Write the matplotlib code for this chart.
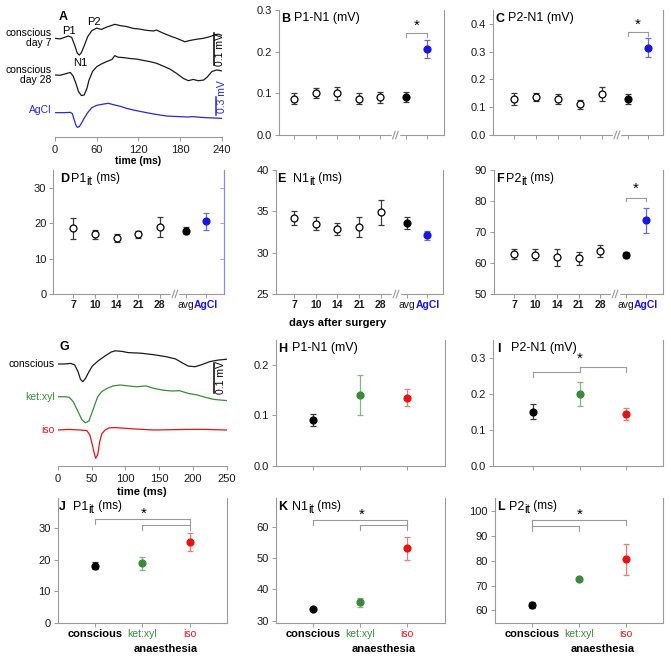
import matplotlib
matplotlib.use('Agg')
import matplotlib.pyplot as plt
from matplotlib.ticker import FormatStrFormatter

plt.rcParams['font.family'] = ['Liberation Sans', 'DejaVu Sans']

# ---------------- data ----------------
# example traces (time in ms, amplitude in mV)
t_day7 = [0, 7, 14, 19, 24, 29, 32, 35, 38, 42, 47, 53, 60, 67, 74, 82, 86, 94, 103,
          113, 122, 132, 142, 146, 156, 166, 175, 187, 194, 204, 214, 223, 230, 235, 240]
v_day7 = [0, -0.002, 0.003, 0.007, 0.003, -0.026, -0.047, -0.053, -0.045, -0.024, 0.005,
          0.024, 0.032, 0.028, 0.035, 0.041, 0.044, 0.040, 0.037, 0.031, 0.029, 0.025,
          0.023, 0.026, 0.016, 0.007, 0.0, -0.011, -0.007, -0.003, 0.0, 0.005, 0.011,
          0.013, 0.009]
t_day28 = [0, 7, 14, 22, 26, 30, 34, 38, 42, 46, 49, 54, 60, 67, 74, 82, 86, 91, 98, 108,
           118, 127, 137, 146, 156, 166, 175, 185, 192, 199, 206, 214, 219, 226, 233, 240]
v_day28 = [0, -0.001, 0.003, 0.008, -0.003, -0.026, -0.053, -0.065, -0.063, -0.042, -0.016,
           0.011, 0.026, 0.035, 0.042, 0.049, 0.061, 0.056, 0.055, 0.052, 0.050, 0.046,
           0.042, 0.037, 0.028, 0.018, 0.005, -0.011, -0.018, -0.014, -0.018, -0.016,
           -0.007, 0.011, 0.016, 0.013]
t_agcl = [0, 12, 22, 25, 27, 30, 32, 35, 38, 42, 47, 53, 60, 70, 77, 84, 94, 103, 113, 122,
          132, 142, 151, 161, 170, 180, 190, 199, 209, 218, 228, 240]
v_agcl = [0, 0, 0.005, -0.016, -0.093, -0.202, -0.240, -0.229, -0.174, -0.093, 0.0, 0.082,
          0.120, 0.142, 0.153, 0.131, 0.104, 0.071, 0.044, 0.022, 0.0, -0.022, -0.038,
          -0.055, -0.060, -0.065, -0.071, -0.065, -0.076, -0.082, -0.087, -0.093]

t_consc = [0, 9.5, 19, 25, 30, 33.5, 37, 41, 46, 51, 60, 70, 79, 85, 95, 104, 123, 142,
           161, 174, 184, 193, 203, 212, 225, 237, 250]
v_consc = [0, 0, 0.002, -0.003, -0.026, -0.051, -0.059, -0.048, -0.026, -0.007, 0.011,
           0.027, 0.040, 0.044, 0.042, 0.038, 0.036, 0.031, 0.024, 0.017, 0.004, -0.007,
           -0.009, -0.003, 0.008, 0.013, 0.016]
t_ketxyl = [0, 9.5, 17, 23, 30, 36, 41, 46, 52, 59, 65, 73, 82, 92, 104, 117, 130, 142,
            155, 168, 180, 193, 206, 218, 231, 240, 250]
v_ketxyl = [0, 0, -0.002, -0.017, -0.050, -0.078, -0.087, -0.081, -0.044, 0.0, 0.017,
            0.028, 0.036, 0.039, 0.036, 0.033, 0.036, 0.028, 0.022, 0.019, 0.020, 0.011,
            0.006, -0.002, -0.009, -0.011, -0.013]
t_iso = [0, 16, 32, 43, 47.5, 50.5, 54, 56, 59, 62, 65, 70, 76, 85, 98, 117, 142, 168,
         193, 218, 250]
v_iso = [0, 0.002, 0, -0.002, -0.017, -0.044, -0.078, -0.094, -0.083, -0.039, -0.013, 0.0,
         0.007, 0.008, 0.006, 0.003, 0.0, 0.001, 0.002, 0.002, 0.0]

# panels B-F: days after surgery, average and AgCl reference
days = ['7', '10', '14', '21', '28']
p1n1_mean = [0.087, 0.101, 0.100, 0.087, 0.091]
p1n1_sem = [0.013, 0.011, 0.015, 0.013, 0.013]
p1n1_avg = [0.091, 0.012]
p1n1_agcl = [0.206, 0.022]
p2n1_mean = [0.130, 0.136, 0.130, 0.110, 0.147]
p2n1_sem = [0.021, 0.015, 0.018, 0.016, 0.025]
p2n1_avg = [0.129, 0.017]
p2n1_agcl = [0.315, 0.034]
p1it_mean = [18.5, 16.8, 15.8, 16.8, 19.0]
p1it_sem = [2.9, 1.3, 1.1, 0.9, 2.8]
p1it_avg = [17.8, 1.0]
p1it_agcl = [20.6, 2.4]
n1it_mean = [34.2, 33.5, 32.85, 33.1, 34.9]
n1it_sem = [0.87, 0.77, 0.7, 1.25, 1.5]
n1it_avg = [33.55, 0.72]
n1it_agcl = [32.1, 0.56]
p2it_mean = [62.9, 62.7, 61.8, 61.5, 63.9]
p2it_sem = [1.6, 1.7, 2.8, 2.2, 1.9]
p2it_avg = [62.5, 0.9]
p2it_agcl = [73.8, 4.1]

# panels H-L: anaesthesia
conds = ['conscious', 'ket:xyl', 'iso']
an_p1n1 = [0.091, 0.140, 0.135]
an_p1n1_sem = [0.012, 0.040, 0.017]
an_p2n1 = [0.150, 0.200, 0.144]
an_p2n1_sem = [0.021, 0.033, 0.018]
an_p1it = [18.0, 18.8, 25.4]
an_p1it_sem = [1.1, 2.1, 2.8]
an_n1it = [33.7, 35.9, 53.1]
an_n1it_sem = [0.4, 1.5, 3.7]
an_p2it = [62.2, 72.6, 80.5]
an_p2it_sem = [1.3, 0.9, 6.1]

# ---------------- figure ----------------
W, H = 671, 659
fig = plt.figure(figsize=(W / 100, H / 100), dpi=100)
renderer = fig.canvas.get_renderer()

GRAY = '#9a9a9a'
BLUE = '#1717e0'
LBLUE = '#6a6ad8'
GREEN = '#3a8a3a'
LGREEN = '#86b486'
RED = '#e41414'
LRED = '#f07a7a'
cond_col = ['black', GREEN, RED]
cond_ecol = ['#3a3a3a', LGREEN, LRED]

day_x = [0, 1, 2, 3, 4]
avg_x = 5.2
agcl_x = 6.15
break_x = 4.7


def axes_px(l, t, r, b):
    return fig.add_axes([l / W, 1 - b / H, (r - l) / W, (b - t) / H])


def ftext(x, y, s, **kw):
    kw.setdefault('ha', 'center')
    kw.setdefault('va', 'center')
    return fig.text(x / W, 1 - y / H, s, **kw)


def style(ax, right=True):
    ax.spines['top'].set_visible(False)
    for s in ['left', 'bottom', 'right']:
        ax.spines[s].set_color(GRAY)
        ax.spines[s].set_linewidth(0.8)
    ax.spines['right'].set_visible(right)
    ax.tick_params(direction='out', length=3, width=0.7, color=GRAY,
                   labelsize=8, labelcolor='#1a1a1a', pad=2)
    ax.set_facecolor('none')


def title(box, letter, parts, dl=2.5, dt=14):
    # letter in bold, then pieces of text (text, size, drop in px)
    x = box[0] + dl
    yb = box[1] + 11.5
    ftext(x, yb, letter, ha='left', va='baseline', fontsize=9, fontweight='bold')
    x += dt
    for s, fs, dy in parts:
        t = ftext(x, yb + dy, s, ha='left', va='baseline', fontsize=fs)
        x += t.get_window_extent(renderer).width


def sub_title(name):
    return [(name, 9, 0), ('it', 8.5, 3.3), (' (ms)', 8.5, 0)]


def bracket(ax, x1, x2, y, d, left=True, rightend=True):
    ax.plot([x1, x2], [y, y], color=GRAY, lw=0.8, clip_on=False)
    if left:
        ax.plot([x1, x1], [y, y - d], color=GRAY, lw=0.8, clip_on=False)
    if rightend:
        ax.plot([x2, x2], [y, y - d], color=GRAY, lw=0.8, clip_on=False)


def axis_break(ax, x):
    tr = ax.get_xaxis_transform()
    ax.plot([x - 0.12, x + 0.12], [0, 0], color='white', lw=2.5, transform=tr,
            clip_on=False, zorder=5)
    for dx in (-0.07, 0.07):
        ax.plot([x + dx - 0.06, x + dx + 0.06], [-0.03, 0.03], color=GRAY, lw=0.8,
                transform=tr, clip_on=False, zorder=6)


ebkw = dict(fmt='o', ms=5, mew=0.9, elinewidth=0.9, capsize=2.5, capthick=0.9)


def day_panel(box, means, sems, avg, agcl, ylim, yticks, fmt, xlim, labels):
    ax = axes_px(*box)
    style(ax)
    ax.errorbar(day_x, means, yerr=sems, mfc='white', mec='black', ecolor='#3a3a3a',
                zorder=3, **ebkw)
    ax.errorbar([avg_x], [avg[0]], yerr=[avg[1]], mfc='black', mec='black',
                ecolor='#3a3a3a', zorder=3, **ebkw)
    ax.errorbar([agcl_x], [agcl[0]], yerr=[agcl[1]], mfc=BLUE, mec=BLUE,
                ecolor=LBLUE, zorder=3, **ebkw)
    ax.set_xlim(*xlim)
    ax.set_ylim(*ylim)
    ax.set_yticks(yticks)
    if fmt:
        ax.yaxis.set_major_formatter(FormatStrFormatter(fmt))
    ax.set_xticks(day_x + [avg_x, agcl_x])
    if labels:
        ax.set_xticklabels(days + ['avg', 'AgCl'])
        ax.tick_params(axis='x', pad=1.5)
        for i, lab in enumerate(ax.get_xticklabels()):
            lab.set_fontsize(7.5)
            if i < 5:
                lab.set_fontweight('bold')
            elif i == 6:
                lab.set_fontweight('bold')
                lab.set_color(BLUE)
    else:
        ax.set_xticklabels([])
    axis_break(ax, break_x)
    return ax


def cond_panel(box, means, sems, ylim, yticks, fmt, xlim, labels):
    ax = axes_px(*box)
    style(ax)
    for i in range(3):
        ax.errorbar([i], [means[i]], yerr=[sems[i]], mfc=cond_col[i], mec=cond_col[i],
                    ecolor=cond_ecol[i], zorder=3, **ebkw)
    ax.set_xlim(*xlim)
    ax.set_ylim(*ylim)
    ax.set_yticks(yticks)
    if fmt:
        ax.yaxis.set_major_formatter(FormatStrFormatter(fmt))
    ax.set_xticks([0, 1, 2])
    if labels:
        ax.set_xticklabels(conds)
        ax.tick_params(axis='x', pad=1)
        for i, lab in enumerate(ax.get_xticklabels()):
            lab.set_color(cond_col[i])
            if i == 0:
                lab.set_fontweight('bold')
                lab.set_fontsize(8)
            else:
                lab.set_fontsize(7.5)
    else:
        ax.set_xticklabels([])
    return ax


def trace_axes(box, xmax, xticks):
    ax = axes_px(*box)
    for s in ['top', 'left', 'right']:
        ax.spines[s].set_visible(False)
    ax.spines['bottom'].set_color(GRAY)
    ax.spines['bottom'].set_linewidth(0.8)
    ax.set_yticks([])
    ax.set_xlim(0, xmax)
    ax.set_xticks(xticks)
    ax.tick_params(direction='out', length=3, width=0.7, color=GRAY,
                   labelsize=8, labelcolor='#1a1a1a', pad=3)
    ax.set_facecolor('none')
    return ax


# ---------- A: example traces ----------
boxA = (55, 5, 221.7, 136.7)
axA = trace_axes(boxA, 240, [0, 60, 120, 180, 240])
axA.set_ylim(-0.3105, 0.105)
axA.plot(t_day7, v_day7, color='#1a1a1a', lw=0.9)
axA.plot(t_day28, [v - 0.1158 for v in v_day28], color='#1a1a1a', lw=0.9)
axA.plot(t_agcl, [v * 0.1924 - 0.2347 for v in v_agcl], color='#2828d0', lw=0.9)
axA.plot([229, 229], [0.0158, -0.0842], color='black', lw=1.1)
axA.plot([232, 232], [-0.184, -0.242], color='#2828d0', lw=1.1)
ftext(220, 50, '0.1 mV', rotation=90, fontsize=7.5)
ftext(222, 97, '0.3 mV', rotation=90, fontsize=7.5, color='#2828d0')
ftext(51.7, 38, 'conscious\nday 7', ha='right', fontsize=7.5, linespacing=1.0)
ftext(51.7, 75, 'conscious\nday 28', ha='right', fontsize=7.5, linespacing=1.0)
ftext(51.7, 110, 'AgCl', ha='right', fontsize=7.5, color='#2828d0')
ftext(69, 30.7, 'P1', fontsize=8)
ftext(94.3, 21.7, 'P2', fontsize=8)
ftext(80, 63.3, 'N1', fontsize=8)
ftext(63.3, 16.7, 'A', fontsize=9, fontweight='bold')
ftext(138.3, 161, 'time (ms)', fontsize=7.5, fontweight='bold')

# ---------- B, C ----------
boxB = (279.3, 10, 444, 135)
axB = day_panel(boxB, p1n1_mean, p1n1_sem, p1n1_avg, p1n1_agcl, (0, 0.3),
                [0, 0.1, 0.2, 0.3], '%.1f', (-0.7, 6.96), False)
bracket(axB, avg_x, agcl_x, 0.245, 0.009)
axB.text((avg_x + agcl_x) / 2, 0.263, '*', ha='center', va='center', fontsize=11)
title(boxB, 'B', [('P1-N1 (mV)', 9, 0)], 1.5, 13.5)

boxC = (493.3, 10, 663.3, 135)
axC = day_panel(boxC, p2n1_mean, p2n1_sem, p2n1_avg, p2n1_agcl, (0, 0.45),
                [0, 0.1, 0.2, 0.3, 0.4], '%.1f', (-0.97, 6.83), False)
bracket(axC, avg_x, agcl_x, 0.37, 0.013)
axC.text((avg_x + agcl_x) / 2, 0.395, '*', ha='center', va='center', fontsize=11)
title(boxC, 'C', [('P2-N1 (mV)', 9, 0)], 1.7, 13)

# ---------- D, E, F ----------
boxD = (53.3, 170, 224.3, 294)
axD = day_panel(boxD, p1it_mean, p1it_sem, p1it_avg, p1it_agcl, (0, 35),
                [0, 10, 20, 30], None, (-0.93, 6.99), True)
axD.spines['right'].set_color('#8c8ce6')
axD2 = axD.twinx()
axD2.set_ylim(0, 35)
axD2.set_yticks([10, 20, 30])
axD2.set_yticklabels([])
axD2.tick_params(direction='in', length=3, width=0.7, color='#a0a0ea')
for s in ['top', 'left', 'bottom']:
    axD2.spines[s].set_visible(False)
axD2.spines['right'].set_color('#8c8ce6')
title(boxD, 'D', sub_title('P1'), 6.5, 11.5)

boxE = (276, 170, 443.3, 294)
axE = day_panel(boxE, n1it_mean, n1it_sem, n1it_avg, n1it_agcl, (25, 40),
                [25, 30, 35, 40], None, (-0.83, 6.88), True)
title(boxE, 'E', sub_title('N1'), 1.3, 16)

boxF = (494, 170, 663, 294)
axF = day_panel(boxF, p2it_mean, p2it_sem, p2it_avg, p2it_agcl, (50, 90),
                [50, 60, 70, 80, 90], None, (-0.93, 6.93), True)
bracket(axF, avg_x, agcl_x, 81.0, 1.0)
axF.text((avg_x + agcl_x) / 2, 83.8, '*', ha='center', va='center', fontsize=11)
title(boxF, 'F', sub_title('P2'), 2.0, 10)

ftext(338, 323.3, 'days after surgery', fontsize=8, fontweight='bold')

# ---------- G: anaesthesia traces ----------
boxG = (57.8, 340, 226.8, 465.7)
axG = trace_axes(boxG, 250, [0, 50, 100, 150, 200, 250])
axG.set_ylim(-0.339, 0.08)
axG.plot(t_consc, v_consc, color='#1a1a1a', lw=0.9)
axG.plot(t_ketxyl, [v - 0.109 for v in v_ketxyl], color=GREEN, lw=0.9)
axG.plot(t_iso, [v - 0.22 for v in v_iso], color=RED, lw=0.9)
axG.plot([231, 231], [0.0023, -0.0977], color='black', lw=1.1)
ftext(220.5, 378, '0.1 mV', rotation=90, fontsize=7.5)
ftext(54.8, 364, 'conscious', ha='right', fontsize=7.5)
ftext(54.8, 396.7, 'ket:xyl', ha='right', fontsize=7.5, color=GREEN)
ftext(54.8, 430, 'iso', ha='right', fontsize=7.5, color=RED)
ftext(60, 347, 'G', ha='left', fontsize=9, fontweight='bold')
ftext(142, 492, 'time (ms)', fontsize=8, fontweight='bold')

# ---------- H, I ----------
boxH = (276, 340, 445, 465.7)
axH = cond_panel(boxH, an_p1n1, an_p1n1_sem, (0, 0.25), [0, 0.1, 0.2], '%.1f',
                 (-0.78, 2.8), False)
title(boxH, 'H', [('P1-N1 (mV)', 9, 0)], 2.0, 14.5)

boxI = (493, 340, 663, 465.7)
axI = cond_panel(boxI, an_p2n1, an_p2n1_sem, (0, 0.35), [0, 0.1, 0.2, 0.3], '%.1f',
                 (-0.85, 2.78), False)
bracket(axI, 0, 1, 0.262, 0.014, True, False)
bracket(axI, 1, 2, 0.276, 0.014, False, True)
axI.plot([1, 1], [0.262, 0.276], color=GRAY, lw=0.8)
axI.text(1, 0.298, '*', ha='center', va='center', fontsize=11)
title(boxI, 'I', [('P2-N1 (mV)', 9, 0)], 4.5, 13.5)

# ---------- J, K, L ----------
boxJ = (57.8, 498, 226.8, 623.3)
axJ = cond_panel(boxJ, an_p1it, an_p1it_sem, (0, 39.3), [0, 10, 20, 30], None,
                 (-0.79, 2.79), True)
bracket(axJ, 0, 2, 32.6, 1.6)
bracket(axJ, 1, 2, 30.8, 1.6)
axJ.text(1.03, 34.2, '*', ha='center', va='center', fontsize=11)
title(boxJ, 'J', sub_title('P1'), 1.5, 14)

boxK = (276, 498, 445, 623.3)
axK = cond_panel(boxK, an_n1it, an_n1it_sem, (29.2, 69.2), [30, 40, 50, 60], None,
                 (-0.78, 2.8), True)
bracket(axK, 0, 2, 62.3, 1.6)
bracket(axK, 1, 2, 60.5, 1.6)
axK.text(1.03, 64.0, '*', ha='center', va='center', fontsize=11)
title(boxK, 'K', sub_title('N1'), 2.0, 14)

boxL = (495, 498, 663, 623.3)
axL = cond_panel(boxL, an_p2it, an_p2it_sem, (54.8, 105.2), [60, 70, 80, 90, 100], None,
                 (-0.78, 2.79), True)
bracket(axL, 0, 2, 96.2, 2.0)
bracket(axL, 0, 1, 93.9, 2.0)
axL.text(1.03, 98.4, '*', ha='center', va='center', fontsize=11)
title(boxL, 'L', sub_title('P2'), 2.6, 11.5)

for box in (boxJ, boxK, boxL):
    xc = box[0] + (box[2] - box[0]) * (0.79 + 1.5) / 3.58
    ftext(xc, 649, 'anaesthesia', fontsize=8, fontweight='bold')

fig.savefig('out.png', dpi=100)
